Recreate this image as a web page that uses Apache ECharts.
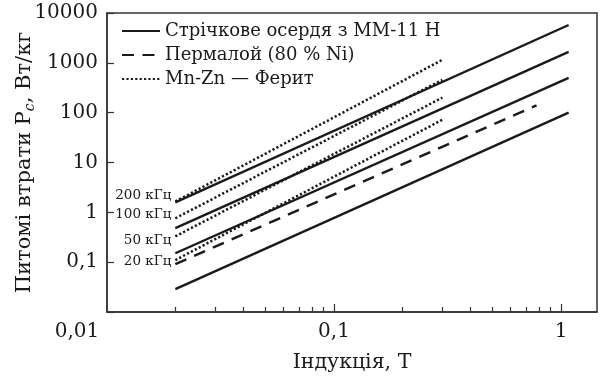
<!DOCTYPE html>
<html>
<head>
<meta charset="utf-8">
<script src="https://cdn.jsdelivr.net/npm/echarts@6/dist/echarts.min.js"></script>
<style>
  html, body { margin: 0; padding: 0; background: #fff; }
  #chart { width: 600px; height: 376px; }
</style>
</head>
<body>
<div id="chart"></div>
<script>
// Питомі втрати в залежності від індукції (log-log)
const tapeName = 'Стрічкове осердя з ММ-11 Н';
const permName = 'Пермалой (80 % Ni)';
const ferriteName = 'Mn-Zn — Ферит';

const freqLabels = ['200 кГц', '100 кГц', '50 кГц', '20 кГц'];

// індукція, Т (початок і кінець ліній)
const tapeB = [0.02, 1.08];
const permB = [0.02, 0.78];
const ferriteB = [0.02, 0.3];

// втрати, Вт/кг (на початку і в кінці)
const tapeP = [[1.58, 5750], [0.48, 1660], [0.151, 500], [0.0288, 100]];
const permP = [0.091, 140];
const ferriteP = [[1.65, 1150], [0.76, 457], [0.33, 200], [0.11, 72]];

const xMinorTicks = [0.02, 0.03, 0.04, 0.05, 0.06, 0.07, 0.08, 0.09, 0.2, 0.3, 0.4, 0.5, 0.6, 0.7, 0.8, 0.9];
const xMajorTicks = [0.01, 0.1, 1];
const yTicks = [0.01, 0.1, 1, 10, 100, 1000, 10000];

const font = '"DejaVu Serif", serif';
const ink = '#1a1a1a';

function fmt(v) {
  return String(v).replace('.', ',');
}

const series = [];
tapeP.forEach((p) => {
  series.push({
    name: tapeName,
    type: 'line',
    symbol: 'none',
    data: [[tapeB[0], p[0]], [tapeB[1], p[1]]],
    itemStyle: { color: ink },
    lineStyle: { color: ink, width: 2.4, type: 'solid' },
  });
});
series.push({
  name: permName,
  type: 'line',
  symbol: 'none',
  data: [[permB[0], permP[0]], [permB[1], permP[1]]],
  itemStyle: { color: ink },
  lineStyle: { color: ink, width: 2.4, type: [12, 8.5] },
});
const labelShift = [-6, -4, 4, 1];
ferriteP.forEach((p, i) => {
  series.push({
    name: ferriteName,
    type: 'line',
    symbol: 'circle',
    symbolSize: 0.01,
    showSymbol: true,
    itemStyle: { color: ink },
    data: [
      {
        value: [ferriteB[0], p[0]],
        label: {
          show: true,
          position: 'left',
          distance: 4,
          offset: [0, labelShift[i]],
          formatter: freqLabels[i],
          fontFamily: font,
          fontSize: 13.5,
          color: ink,
        },
      },
      [ferriteB[1], p[1]],
    ],
    lineStyle: { color: ink, width: 2.5, type: [2.2, 2.2] },
  });
});

const chart = echarts.init(document.getElementById('chart'));
chart.setOption({
  animation: false,
  backgroundColor: '#fff',
  grid: {
    left: 107, right: 3, top: 13, bottom: 64,
    outerBoundsMode: 'none',
    show: true, borderColor: '#333', borderWidth: 1.5,
  },
  legend: {
    data: [tapeName, permName, ferriteName],
    orient: 'vertical',
    left: 116,
    top: 15,
    itemWidth: 38,
    itemHeight: 14,
    itemGap: 2,
    itemStyle: { opacity: 0 },
    textStyle: { fontFamily: font, fontSize: 18, color: ink, lineHeight: 22 },
  },
  xAxis: [
    {
      type: 'log',
      logBase: 10,
      min: 0.01,
      max: 1.44,
      name: 'Індукція, Т',
      nameLocation: 'middle',
      nameGap: 40,
      nameTextStyle: { fontFamily: font, fontSize: 20.5, color: ink },
      axisLine: { show: true, lineStyle: { color: '#333', width: 1.5 } },
      axisTick: {
        show: true, inside: true, length: 5,
        customValues: xMinorTicks,
        lineStyle: { color: '#333', width: 1.2 },
      },
      axisLabel: {
        customValues: xMajorTicks,
        margin: 10,
        fontFamily: font,
        fontSize: 20,
        color: ink,
        formatter: (v) => (Math.abs(v - 0.01) < 1e-9 ? '{c|0,01}' : fmt(v)),
        rich: { c: { fontFamily: font, fontSize: 20, color: ink, padding: [0, 60, 0, 0] } },
      },
      splitLine: { show: false },
    },
    {
      type: 'log',
      logBase: 10,
      min: 0.01,
      max: 1.44,
      position: 'bottom',
      axisLine: { show: false },
      axisTick: {
        show: true, inside: true, length: 8,
        customValues: [0.1, 1],
        lineStyle: { color: '#333', width: 1.2 },
      },
      axisLabel: { show: false },
      splitLine: { show: false },
    },
  ],
  yAxis: {
    type: 'log',
    logBase: 10,
    min: 0.01,
    max: 10000,
    name: 'Питомі втрати P{s|c}, Вт/кг',
    nameLocation: 'middle',
    nameMoveOverlap: false,
    nameGap: 70,
    nameTextStyle: {
      fontFamily: font, fontSize: 21, color: ink,
      rich: { s: { fontFamily: font, fontSize: 14, fontStyle: 'italic', color: ink, verticalAlign: 'bottom', padding: [10, 0, 0, 0] } },
    },
    axisLine: { show: true, lineStyle: { color: '#333', width: 1.5 } },
    axisTick: {
      show: true, inside: true, length: 7,
      customValues: yTicks,
      lineStyle: { color: '#333', width: 1.2 },
    },
    axisLabel: {
      customValues: yTicks,
      margin: 9,
      fontFamily: font,
      fontSize: 20,
      color: ink,
      formatter: (v) => (v < 0.05 ? '' : fmt(v)),
    },
    splitLine: { show: false },
  },
  series: series,
});
window.addEventListener('resize', () => { chart.resize(); });
</script>
</body>
</html>
